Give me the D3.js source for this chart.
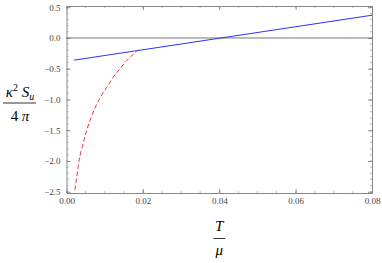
<!DOCTYPE html>
<html>
<head>
<meta charset="utf-8">
<script src="https://cdn.jsdelivr.net/npm/d3@7"></script>
<style>
  body { margin: 0; background: #fff; }
</style>
</head>
<body>
<div id="chart"></div>
<script>
// Blue solid branch: [T/mu, value]
const blueLine = [[0.002, -0.36], [0.08, 0.37]];
// Red dashed branch: [T/mu, value]
const redCurve = [
    [0.0022, -2.47], [0.0027, -2.25], [0.0033, -1.99], [0.0042, -1.75],
    [0.0053, -1.50], [0.0065, -1.28], [0.0079, -1.08], [0.0095, -0.90],
    [0.0110, -0.76], [0.0122, -0.64], [0.0140, -0.50], [0.0157, -0.37],
    [0.0172, -0.28], [0.0188, -0.19]
];
const xTicks = [0, 0.02, 0.04, 0.06, 0.08];
const yTicks = [0.5, 0, -0.5, -1, -1.5, -2, -2.5];

const W = 382, H = 263;
const serif = '"Liberation Serif", "DejaVu Serif", serif';
const margin = { top: 6, right: 10, bottom: 70, left: 66.5 };
const width = W - margin.left - margin.right;
const height = H - margin.top - margin.bottom;

const svg = d3.select('#chart').append('svg')
    .attr('width', W).attr('height', H)
    .style('font-family', serif);
const g = svg.append('g').attr('transform', `translate(${margin.left},${margin.top})`);

const x = d3.scaleLinear().domain([0, 0.08]).range([0, width]);
const y = d3.scaleLinear().domain([0.52, -2.52]).range([0, height]);

const frameColor = '#888';
const labelColor = '#444';

// frame axes
const xMinor = d3.range(0, 0.0801, 0.005);
const yMinor = d3.range(-2.5, 0.501, 0.1);

g.append('g').attr('transform', `translate(0,${height})`)
    .call(d3.axisBottom(x).tickValues(xTicks).tickFormat(d3.format('.2f')).tickSizeInner(-4).tickSizeOuter(0).tickPadding(5))
    .call(a => a.attr('font-family', null))
    .call(a => a.select('.domain').attr('stroke', frameColor))
    .call(a => a.selectAll('line').attr('stroke', frameColor))
    .call(a => a.selectAll('text').attr('fill', labelColor).style('font-size', '9px').style('font-family', serif));

g.append('g')
    .call(d3.axisLeft(y).tickValues(yTicks).tickFormat(d3.format('.1f')).tickSizeInner(-4).tickSizeOuter(0).tickPadding(6))
    .call(a => a.attr('font-family', null))
    .call(a => a.select('.domain').attr('stroke', frameColor))
    .call(a => a.selectAll('line').attr('stroke', frameColor))
    .call(a => a.selectAll('text').attr('fill', labelColor).style('font-size', '9px').style('font-family', serif)
        .text(d => d3.format('.1f')(d).replace('-', '\u2212')));

g.append('g')
    .call(d3.axisTop(x).tickValues(xTicks).tickFormat('').tickSizeInner(-4).tickSizeOuter(0))
    .call(a => a.select('.domain').attr('stroke', frameColor))
    .call(a => a.selectAll('line').attr('stroke', frameColor));

g.append('g').attr('transform', `translate(${width},0)`)
    .call(d3.axisRight(y).tickValues(yTicks).tickFormat('').tickSizeInner(-4).tickSizeOuter(0))
    .call(a => a.select('.domain').attr('stroke', frameColor))
    .call(a => a.selectAll('line').attr('stroke', frameColor));

// minor ticks
const minor = g.append('g').attr('stroke', frameColor).attr('stroke-width', 0.6);
xMinor.forEach(v => {
    minor.append('line').attr('x1', x(v)).attr('x2', x(v)).attr('y1', height).attr('y2', height - 2);
    minor.append('line').attr('x1', x(v)).attr('x2', x(v)).attr('y1', 0).attr('y2', 2);
});
yMinor.forEach(v => {
    minor.append('line').attr('x1', 0).attr('x2', 2).attr('y1', y(v)).attr('y2', y(v));
    minor.append('line').attr('x1', width).attr('x2', width - 2).attr('y1', y(v)).attr('y2', y(v));
});

// zero line
g.append('line')
    .attr('x1', 0).attr('x2', width).attr('y1', y(0)).attr('y2', y(0))
    .attr('stroke', '#777').attr('stroke-width', 1);

const line = d3.line().x(d => x(d[0])).y(d => y(d[1]));

g.append('path').datum(blueLine)
    .attr('d', line).attr('fill', 'none')
    .attr('stroke', '#3030ff').attr('stroke-width', 1);

g.append('path').datum(redCurve)
    .attr('d', d3.line().x(d => x(d[0])).y(d => y(d[1])).curve(d3.curveMonotoneX))
    .attr('fill', 'none')
    .attr('stroke', '#ff3030').attr('stroke-width', 1)
    .attr('stroke-dasharray', '4.5,2.5');

// y label: kappa^2 S_u / 4 pi
const yl = svg.append('g').attr('transform', 'translate(20,0)');
const num = yl.append('text').attr('x', 0).attr('y', 97).attr('text-anchor', 'middle')
    .style('font-size', '15px').style('font-style', 'italic');
num.append('tspan').text('\u03BA');
num.append('tspan').text('2').attr('dy', -6).style('font-size', '10px').style('font-style', 'normal');
num.append('tspan').text(' S').attr('dy', 6);
num.append('tspan').text('u').attr('dy', 3).style('font-size', '10px');
yl.append('line').attr('x1', -17).attr('x2', 16).attr('y1', 103).attr('y2', 103)
    .attr('stroke', '#000').attr('stroke-width', 0.8);
const den = yl.append('text').attr('x', 0).attr('y', 121).attr('text-anchor', 'middle')
    .style('font-size', '15px');
den.append('tspan').text('4 ');
den.append('tspan').text('\u03C0').style('font-style', 'italic');

// x label: T / mu
const xl = svg.append('g').attr('transform', `translate(${margin.left + x(0.04)},0)`);
xl.append('text').attr('x', 0).attr('y', 231).attr('text-anchor', 'middle')
    .style('font-size', '15px').style('font-style', 'italic').text('T');
xl.append('line').attr('x1', -6).attr('x2', 6).attr('y1', 238.5).attr('y2', 238.5)
    .attr('stroke', '#000').attr('stroke-width', 0.8);
xl.append('text').attr('x', 0).attr('y', 255).attr('text-anchor', 'middle')
    .style('font-size', '15px').style('font-style', 'italic').text('\u03BC');
</script>
</body>
</html>
